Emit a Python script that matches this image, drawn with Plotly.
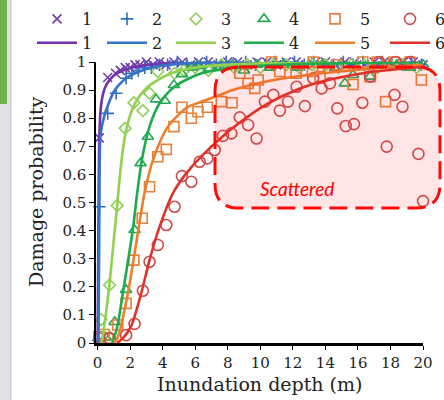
import plotly.graph_objects as go

# ---------------- data ----------------
names = ["1", "2", "3", "4", "5", "6"]

s1_x = [0.1, 0.62, 1.1, 1.4, 1.7, 2.0, 2.3, 2.6, 3.0, 3.4, 3.8, 4.2, 4.7, 5.2, 5.7, 6.2, 6.8, 7.4, 8.0, 8.6,
        9.2, 9.8, 10.4, 11.0, 11.6, 12.2, 12.8, 13.4, 14.0, 14.6, 15.2, 15.8, 16.4, 17.0, 17.6, 18.2, 18.8, 19.4, 20.0]
s1_y = [0.73, 0.945, 0.96, 0.97, 0.98, 0.98, 0.99, 0.99, 1.0, 0.99, 1.0, 0.99, 1.0, 1.0, 0.99, 1.0, 1.0, 0.99, 1.0, 1.0,
        0.99, 1.0, 1.0, 0.99, 1.0, 1.0, 0.99, 1.0, 1.0, 0.99, 1.0, 1.0, 0.99, 1.0, 1.0, 0.99, 1.0, 1.0, 0.99]

s2_x = [0.05, 0.11, 0.62, 1.14, 1.75, 2.1, 2.5, 2.9, 3.3, 3.8, 4.3, 4.9, 5.5, 6.1, 6.7, 7.3, 7.9, 8.5, 9.1, 9.7,
        10.3, 10.9, 11.5, 12.1, 12.7, 13.3, 13.9, 14.5, 15.1, 15.7, 16.3, 16.9, 17.5, 18.1, 18.7, 19.3, 19.9]
s2_y = [0.01, 0.485, 0.817, 0.889, 0.942, 0.96, 0.97, 0.98, 0.98, 0.99, 0.99, 1.0, 0.99, 0.99, 1.0, 0.99, 1.0, 0.99, 1.0, 0.99,
        0.99, 1.0, 0.99, 1.0, 0.99, 1.0, 0.99, 0.99, 1.0, 0.99, 1.0, 0.99, 1.0, 0.99, 0.99, 1.0, 0.99]

s3_x = [0.21, 0.73, 1.2, 1.69, 2.23, 2.78, 3.19, 3.7, 4.73, 5.3, 6.0, 6.8, 7.6, 8.4, 9.2, 10.0, 10.8, 11.6, 12.4,
        13.2, 14.0, 14.8, 15.6, 16.4, 17.2, 18.0, 18.8, 19.6]
s3_y = [0.084, 0.206, 0.489, 0.764, 0.855, 0.827, 0.889, 0.966, 0.96, 0.97, 0.98, 0.97, 0.99, 0.98, 0.99, 0.98, 0.99,
        0.99, 0.98, 0.99, 0.99, 0.98, 0.99, 0.99, 0.98, 0.99, 0.99, 0.98]

s4_x = [0.5, 0.8, 1.05, 1.75, 2.27, 2.64, 3.09, 3.6, 4.12, 4.69, 5.18, 5.76, 6.27, 6.89, 7.5, 8.3, 9.0, 9.8, 10.6,
        11.4, 12.2, 13.0, 13.8, 14.6, 15.2, 15.7, 16.75, 17.6, 18.4, 19.2, 20.0]
s4_y = [0.02, 0.02, 0.075, 0.189, 0.402, 0.64, 0.734, 0.867, 0.862, 0.918, 0.957, 0.981, 0.986, 0.978, 0.98, 0.99,
        0.97, 0.99, 0.98, 0.99, 0.98, 0.99, 0.99, 0.98, 0.924, 0.954, 0.948, 0.99, 0.99, 0.98, 0.99]

s5_x = [0.07, 0.4, 0.62, 1.24, 1.75, 2.23, 2.74, 3.19, 3.7, 4.22, 4.69, 5.18, 5.76, 6.17, 6.74, 7.6, 8.26, 8.74,
        9.25, 9.66, 9.87, 10.7, 11.2, 12.2, 13.2, 13.25, 13.67, 14.7, 15.7, 16.3, 16.75, 17.2, 17.7, 18.2, 19.2, 19.9]
s5_y = [0.022, 0.03, 0.017, 0.064, 0.141, 0.295, 0.444, 0.556, 0.663, 0.689, 0.77, 0.839, 0.80, 0.823, 0.839, 0.859,
        0.855, 0.96, 0.924, 0.906, 0.936, 1.0, 0.966, 0.96, 0.966, 1.0, 0.948, 0.99, 0.92, 1.0, 0.948, 1.0, 0.859,
        1.0, 1.0, 0.936]

s6_x = [0.11, 0.73, 1.75, 2.27, 2.78, 3.19, 3.7, 4.22, 4.73, 5.18, 5.76, 6.27, 6.74, 7.2, 7.7, 8.22, 8.74, 9.25,
        9.77, 10.28, 10.8, 11.2, 11.7, 12.23, 12.74, 13.25, 13.77, 14.28, 14.73, 15.25, 15.76, 16.27, 16.75, 17.3,
        17.77, 18.25, 18.3, 18.74, 19.2, 19.72, 20.0]
s6_y = [0.017, 0.017, 0.028, 0.068, 0.186, 0.289, 0.349, 0.42, 0.485, 0.594, 0.574, 0.645, 0.657, 0.687, 0.737,
        0.746, 0.803, 0.776, 0.728, 0.859, 0.883, 0.827, 0.859, 0.912, 0.843, 0.942, 0.906, 0.924, 0.835, 0.772,
        0.779, 0.855, 0.948, 1.0, 0.699, 0.883, 1.0, 0.841, 1.0, 0.673, 0.505]

c1_x = [0.0, 0.03, 0.06, 0.1, 0.2, 0.35, 0.55, 0.8, 1.2, 1.8, 2.5, 4.0, 7.0, 20.0]
c1_y = [0.0, 0.25, 0.5, 0.72, 0.84, 0.89, 0.92, 0.94, 0.96, 0.975, 0.985, 0.995, 1.0, 1.0]

c2_x = [0.05, 0.09, 0.12, 0.18, 0.42, 0.73, 1.0, 1.34, 1.8, 2.3, 3.0, 4.0, 6.0, 9.0, 20.0]
c2_y = [0.0, 0.3, 0.6, 0.74, 0.81, 0.86, 0.895, 0.92, 0.945, 0.96, 0.975, 0.988, 0.997, 1.0, 1.0]

c3_x = [0.25, 0.5, 0.73, 0.95, 1.2, 1.45, 1.76, 2.27, 3.09, 4.53, 6.4, 10.0, 15.0, 20.0]
c3_y = [0.0, 0.1, 0.21, 0.34, 0.49, 0.64, 0.76, 0.85, 0.912, 0.96, 0.983, 0.995, 0.999, 1.0]

c4_x = [0.9, 1.03, 1.25, 1.55, 2.16, 2.43, 2.72, 3.19, 3.81, 4.73, 6.38, 8.5, 12.0, 16.0, 20.0]
c4_y = [0.0, 0.02, 0.07, 0.177, 0.402, 0.533, 0.651, 0.77, 0.853, 0.912, 0.96, 0.98, 0.992, 0.997, 1.0]

c5_x = [1.0, 1.24, 1.86, 2.37, 2.88, 3.4, 4.32, 5.55, 6.3, 7.4, 8.3, 10.3, 12.4, 16.5, 20.0]
c5_y = [0.0, 0.02, 0.177, 0.354, 0.533, 0.651, 0.77, 0.84, 0.857, 0.88, 0.9, 0.93, 0.95, 0.975, 0.99]

c6_x = [1.2, 1.6, 2.06, 2.68, 3.19, 3.81, 4.63, 5.4, 6.3, 7.3, 8.3, 10.4, 12.4, 14.5, 16.5, 20.0]
c6_y = [0.0, 0.02, 0.06, 0.177, 0.295, 0.414, 0.533, 0.6, 0.66, 0.715, 0.765, 0.85, 0.905, 0.94, 0.962, 0.983]

x_ticks = [0, 2, 4, 6, 8, 10, 12, 14, 16, 18, 20]
y_ticks = [0, 0.1, 0.2, 0.3, 0.4, 0.5, 0.6, 0.7, 0.8, 0.9, 1]
y_tick_labels = ["0", "0.1", "0.2", "0.3", "0.4", "0.5", "0.6", "0.7", "0.8", "0.9", "1"]

# ---------------- styling ----------------
VIEW_W = 444          # visible window width
W, H = 490, 400       # figure a bit wider; the extra strip is off-screen
ML, MT, MB = 96, 62, 57
MR = 21 + (W - VIEW_W)
PW, PH = W - ML - MR, H - MT - MB

line_colors = ["#7432ad", "#3574c4", "#92d050", "#1eab4e", "#f07d2a", "#e0302a"]
mark_colors = ["#6f3fb0", "#2f6fc0", "#8fcf58", "#22a854", "#e8803a", "#cf4a4a"]
symbols = ["x-thin-open", "cross-thin-open", "diamond-open", "triangle-up-open", "square-open", "circle-open"]
sizes = [9, 9, 9, 10, 10, 11]
legend_text_px = [82, 152, 221, 289, 360, 435]   # where each legend column's label starts
ITEMW = 40                                        # legend symbol width
SERIF = "DejaVu Serif"

scat = [(s1_x, s1_y), (s2_x, s2_y), (s3_x, s3_y), (s4_x, s4_y), (s5_x, s5_y), (s6_x, s6_y)]
curves = [(c1_x, c1_y), (c2_x, c2_y), (c3_x, c3_y), (c4_x, c4_y), (c5_x, c5_y), (c6_x, c6_y)]
legend_ids = ["legend"] + [f"legend{k}" for k in range(2, 7)]

fig = go.Figure()
for i, (xs, ys) in enumerate(scat):
    fig.add_trace(go.Scatter(
        x=xs, y=ys, mode="markers", name=names[i], cliponaxis=False, legend=legend_ids[i],
        marker=dict(symbol=symbols[i], size=sizes[i], color=mark_colors[i],
                    line=dict(color=mark_colors[i], width=1.6)),
    ))
for i, (xs, ys) in enumerate(curves):
    fig.add_trace(go.Scatter(
        x=xs, y=ys, mode="lines", name=names[i], cliponaxis=False, legend=legend_ids[i],
        line=dict(color=line_colors[i], width=2.6, shape="spline", smoothing=0.8),
    ))


def px_x(p):
    return (p - ML) / PW


def px_y(p):
    return (H - MB - p) / PH


shapes = []
# slide decoration on the left
shapes.append(dict(type="rect", xref="paper", yref="paper", x0=px_x(0), x1=px_x(11), y0=px_y(400), y1=px_y(0),
                   fillcolor="#e1e2e5", line=dict(width=0), layer="below"))
shapes.append(dict(type="rect", xref="paper", yref="paper", x0=px_x(10), x1=px_x(11.5), y0=px_y(400), y1=px_y(0),
                   fillcolor="#cfd0d3", line=dict(width=0), layer="below"))
shapes.append(dict(type="rect", xref="paper", yref="paper", x0=px_x(0), x1=px_x(7), y0=px_y(104), y1=px_y(0),
                   fillcolor="#72b04a", line=dict(width=0), layer="below"))

# rounded dashed highlight box
bx0, bx1, by0, by1, r = 215, 440, 67, 208, 24
pts = [
    ("M", bx0 + r, by0), ("L", bx1 - r, by0), ("Q", bx1, by0, bx1, by0 + r), ("L", bx1, by1 - r),
    ("Q", bx1, by1, bx1 - r, by1), ("L", bx0 + r, by1), ("Q", bx0, by1, bx0, by1 - r), ("L", bx0, by0 + r),
    ("Q", bx0, by0, bx0 + r, by0),
]
path = ""
for p in pts:
    cmd = p[0]
    coords = p[1:]
    parts = []
    for k in range(0, len(coords), 2):
        parts.append(f"{px_x(coords[k]):.5f},{px_y(coords[k + 1]):.5f}")
    path += cmd + " ".join(parts) + " "
path += "Z"
shapes.append(dict(type="path", xref="paper", yref="paper", path=path, layer="above",
                   fillcolor="rgba(255,40,40,0.12)",
                   line=dict(color="#ff0a0a", width=3, dash="18px,8px")))

annotations = [
    dict(text="<i>Scattered</i>", xref="paper", yref="paper", x=px_x(297), y=px_y(188), showarrow=False,
         xanchor="center", yanchor="middle", font=dict(family="Lato", size=19, color="#ff0000")),
    dict(text="Damage probability", xref="paper", yref="paper", x=px_x(36), y=px_y(192), showarrow=False,
         textangle=-90, xanchor="center", yanchor="middle", font=dict(family=SERIF, size=19, color="#222")),
    dict(text="Inundation depth (m)", xref="paper", yref="paper", x=px_x(259), y=px_y(384), showarrow=False,
         xanchor="center", yanchor="middle", font=dict(family=SERIF, size=19, color="#222")),
]

legend_layout = {}
for i, lid in enumerate(legend_ids):
    legend_layout[lid] = dict(
        orientation="v", x=px_x(legend_text_px[i] - (ITEMW + 10)), y=px_y(2), xanchor="left", yanchor="top",
        itemwidth=ITEMW, font=dict(family=SERIF, size=16, color="#222"), bgcolor="rgba(0,0,0,0)",
        borderwidth=0, itemclick=False, traceorder="normal", tracegroupgap=0,
    )

fig.update_layout(
    width=W, height=H,
    margin=dict(l=ML, r=MR, t=MT, b=MB, pad=0, autoexpand=False),
    paper_bgcolor="white", plot_bgcolor="white",
    font=dict(family=SERIF, size=15, color="#222"),
    shapes=shapes, annotations=annotations,
    showlegend=True,
    xaxis=dict(range=[-0.1, 20], tickvals=x_ticks, showline=True, linecolor="black", linewidth=2.5,
               ticks="outside", ticklen=4, tickwidth=1, tickcolor="black", showgrid=False, zeroline=False,
               tickfont=dict(family=SERIF, size=15, color="#222")),
    yaxis=dict(range=[0, 1], tickvals=y_ticks, ticktext=y_tick_labels, showline=True, linecolor="black",
               linewidth=1.5, ticks="outside", ticklen=5, tickwidth=1, tickcolor="black", showgrid=False,
               zeroline=False, tickfont=dict(family=SERIF, size=15, color="#222")),
    **legend_layout,
)

fig.write_html("out.html", config={"displayModeBar": False},
               post_script="document.body.style.margin='0px';document.body.style.overflow='hidden';")
